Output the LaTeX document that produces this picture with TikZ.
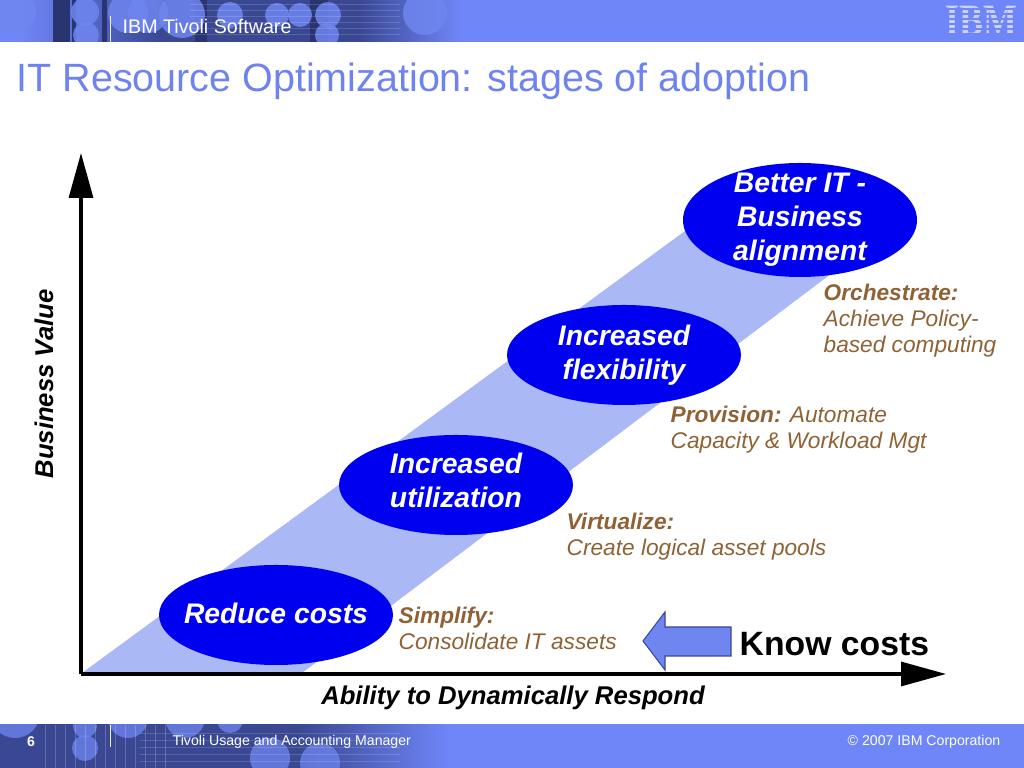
\documentclass[tikz,border=0pt]{standalone}
\usepackage{fontspec}
\setmainfont{Liberation Sans}
\newfontfamily\logofont{Liberation Serif}
\usetikzlibrary{shapes.geometric}
\usetikzlibrary{arrows.meta}
\definecolor{bannerblue}{HTML}{6F86F8}
\definecolor{bannerdark}{HTML}{3A4894}
\definecolor{stripedark}{HTML}{2A3470}
\definecolor{titleblue}{HTML}{6F83EE}
\definecolor{bandblue}{HTML}{AAB8F6}
\definecolor{ovalblue}{HTML}{0000F0}
\definecolor{stagebrown}{HTML}{8F6235}
\definecolor{pointblue}{HTML}{6F86F0}
\definecolor{logogrey}{HTML}{C9D2F4}
\tikzset{
  stageoval/.style = {ellipse, fill=ovalblue, text=white, minimum width=2.34cm, minimum height=1cm, inner sep=-1cm, align=center, font=\fontsize{8.05}{9.7}\selectfont\bfseries\itshape},
  stagenote/.style = {anchor=north west, inner sep=0pt, align=left, text=stagebrown, font=\fontsize{6.45}{7.4}\selectfont\itshape},
  axislabel/.style = {inner sep=0pt, font=\fontsize{7.3}{8}\selectfont\bfseries\itshape},
  bannertext/.style = {inner sep=0pt, text=white},
  axisline/.style = {line width=0.9pt, -{Triangle[length=0.45cm,width=0.24cm]}}
}
\begin{document}
\begin{tikzpicture}
\useasboundingbox (0,0) rectangle (10.24,7.68);
% top banner
\begin{scope}
\clip (0,7.26) rectangle (10.24,7.68);
\fill[bannerblue] (0,7.2) rectangle (10.24,7.7);
\fill[left color=bannerblue, right color=bannerdark] (0.2,7.2) rectangle (1.6,7.7);
\fill[bannerdark] (1.59,7.2) rectangle (3.61,7.7);
\fill[left color=bannerdark, right color=bannerblue] (3.6,7.2) rectangle (4.6,7.7);
\foreach \x/\w in {0.53/0.17, 0.72/0.04, 1.02/0.05, 1.95/0.12, 3.1/0.18}
  \fill[stripedark] (\x,7.2) rectangle (\x+\w,7.7);
\foreach \x/\y/\r in {0.15/7.56/0.21, 0.85/7.56/0.14, 0.86/7.33/0.13, 1.28/7.55/0.2, 1.48/7.55/0.2, 1.82/7.53/0.23, 2.3/7.53/0.13, 2.77/7.53/0.12, 3.0/7.53/0.12, 3.28/7.53/0.13, 3.27/7.33/0.12, 4.25/7.55/0.22}
  \fill[pointblue, opacity=0.85] (\x,\y) circle (\r);
\foreach \y in {7.34,7.4,...,7.66}
  \draw[white, opacity=0.15, line width=0.2pt] (1.9,\y) -- (4.0,\y);
\end{scope}
\draw[white!85!bannerblue, line width=0.25pt] (1.1,7.26) -- (1.1,7.52);
\node[bannertext, anchor=west, font=\fontsize{5.6}{6}\selectfont] (brand) at (1.22,7.42) {IBM Tivoli Software};
% logo
\node[inner sep=0pt, text=logogrey, yscale=1.25, transform shape, font=\logofont\fontsize{10.2}{11}\selectfont\bfseries] (logo) at (9.81,7.47) {IBM};
\foreach \y in {7.34,7.39,...,7.64}
  \draw[bannerblue, line width=0.35pt] (9.4,\y) -- (10.2,\y);
% bottom banner
\begin{scope}
\clip (0,0) rectangle (10.24,0.43);
\fill[bannerblue] (0,-0.05) rectangle (10.24,0.5);
\fill[bannerdark] (0,-0.05) rectangle (3.01,0.5);
\fill[left color=bannerdark, right color=bannerblue] (3.0,-0.05) rectangle (4.5,0.5);
\foreach \x/\y/\r in {0.15/0.55/0.25, 0.85/0.2/0.13, 0.85/0.42/0.12, 1.28/0.5/0.2, 1.85/0.5/0.2, 2.3/0.48/0.13, 3.2/0.05/0.2, 2.7/0.1/0.2}
  \fill[pointblue, opacity=0.75] (\x,\y) circle (\r);
\foreach \x in {0.45,0.55,...,1.75}
  \draw[white, opacity=0.2, line width=0.2pt] (\x,0) -- (\x,0.43);
\foreach \y in {0.07,0.14,...,0.36}
  \draw[white, opacity=0.15, line width=0.2pt] (1.4,\y) -- (4.0,\y);
\end{scope}
\draw[white!85!bannerblue, line width=0.25pt] (1.1,0.21) -- (1.1,0.43);
\node[bannertext, font=\fontsize{4}{4.5}\selectfont\bfseries] (pagenum) at (0.31,0.26) {6};
\node[bannertext, anchor=west, font=\fontsize{4.02}{4.5}\selectfont] (product) at (1.72,0.26) {Tivoli Usage and Accounting Manager};
\node[bannertext, anchor=east, font=\fontsize{4.02}{4.5}\selectfont] (copyright) at (10.01,0.26) {© 2007 IBM Corporation};
% title
\node[anchor=west, inner sep=0pt, text=titleblue, font=\fontsize{11.23}{13}\selectfont] (title) at (0.16,6.87) {IT Resource Optimization: stages of adoption};
% band behind the ovals
\fill[bandblue] (0.82,0.95) -- (7.0,5.48) -- (8.6,5.16) -- (3.02,0.95) -- cycle;
% axes
\coordinate (origin) at (0.81,0.94);
\coordinate (ytip) at (0.81,6.15);
\coordinate (xtip) at (9.46,0.94);
\draw[axisline] (origin) -- (ytip);
\draw[axisline] (origin) -- (xtip);
\node[axislabel, rotate=90] (yname) at (0.44,3.84) {Business Value};
\node[axislabel] (xname) at (5.13,0.7) {Ability to Dynamically Respond};
% ovals
\node[stageoval] (reduce) at (2.76,1.53) {Reduce costs\\[-0.3cm]};
\node[stageoval] (utilization) at (4.56,2.83) {Increased\\utilization\\[-0.24cm]};
\node[stageoval] (flexibility) at (6.24,4.13) {Increased\\flexibility};
\node[stageoval, minimum height=1.14cm] (alignment) at (8.0,5.48) {Better IT -\\Business\\alignment};
% notes
\node[stagenote] (simplify) at (3.98,1.62) {\textbf{Simplify:}\\Consolidate IT assets};
\node[stagenote] (virtualize) at (5.66,2.56) {\textbf{Virtualize:}\\Create logical asset pools};
\node[stagenote] (provision) at (6.7,3.63) {\textbf{Provision:} Automate\\Capacity \& Workload Mgt};
\node[stagenote] (orchestrate) at (8.23,4.85) {\textbf{Orchestrate:}\\Achieve Policy-\\based computing};
% know costs
\draw[fill=pointblue, draw=bannerdark, line width=0.3pt] (7.31,1.41) -- (6.65,1.41) -- (6.65,1.56) -- (6.43,1.27) -- (6.65,0.98) -- (6.65,1.12) -- (7.31,1.12) -- cycle;
\node[anchor=west, inner sep=0pt, font=\fontsize{9.6}{11}\selectfont\bfseries] (know) at (7.39,1.24) {Know costs};
\end{tikzpicture}
\end{document}
